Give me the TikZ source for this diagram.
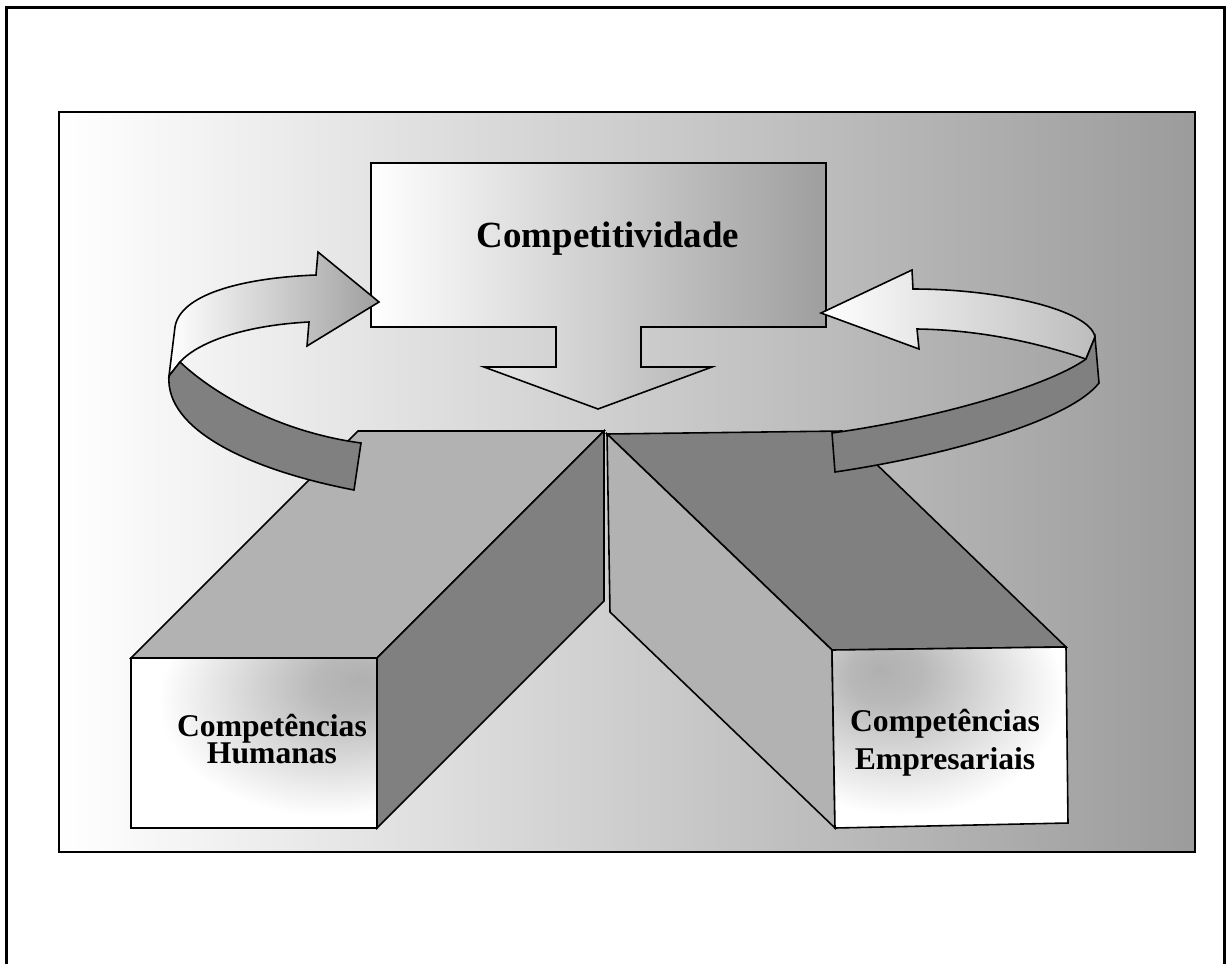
\documentclass[tikz,border=0pt]{standalone}
\usepackage{fontspec}
\setmainfont{Liberation Serif}

\definecolor{darkface}{gray}{0.5}
\definecolor{lightface}{gray}{0.7}
\definecolor{panelend}{gray}{0.61}
\definecolor{boxend}{gray}{0.62}

% front faces of the two blocks
\pgfdeclareradialshading{humfront}{\pgfpoint{22bp}{19bp}}{color(0bp)=(gray!62); color(8bp)=(gray!55); color(34bp)=(white); color(100bp)=(white)}
\pgfdeclareradialshading{empfront}{\pgfpoint{-15bp}{19bp}}{color(0bp)=(gray!62); color(8bp)=(gray!55); color(34bp)=(white); color(100bp)=(white)}

\tikzset{
  edge/.style={draw=black, line width=0.9pt, line join=miter},
  darkside/.style={edge, fill=darkface},
  lightside/.style={edge, fill=lightface},
  blocktext/.style={font={\fontsize{18}{#1}\selectfont\bfseries\lineskiplimit-20pt}, align=center}
}

\begin{document}
\begin{tikzpicture}[x=0.02cm, y=-0.02cm]
\useasboundingbox (0,0) rectangle (1228,964);

% page frame
\draw[line width=1.7pt] (6.5,964) -- (6.5,7.5) -- (1224.5,7.5) -- (1224.5,964);

% panel
\draw[line width=1.1pt, left color=white, right color=panelend] (59,112) rectangle (1195,852);

% top box with down arrow
\draw[edge, left color=white, right color=boxend]
  (371,163) -- (826,163) -- (826,327) -- (641,327) -- (641,367) -- (712,367)
  -- (598,409) -- (484,367) -- (556,367) -- (556,327) -- (371,327) -- cycle;
\node[anchor=base, font=\fontsize{21}{25}\selectfont\bfseries] (compet) at (608,247) {Competitividade};

% left block
\draw[lightside] (358,431) -- (604,431) -- (377,658) -- (131,658) -- cycle;
\draw[darkside] (604,431) -- (604,601) -- (377,828) -- (377,658) -- cycle;
\draw[edge, shading=humfront] (131,658) rectangle (377,828);
\node[blocktext=15.8pt] (human) at (272,739) {Competências\\Humanas};

% right block
\draw[darkside] (607,434) -- (842,431) -- (1066,647) -- (832,650) -- cycle;
\draw[lightside] (607,434) -- (832,650) -- (835,828) -- (610,612) -- cycle;
\draw[edge, shading=empfront] (832,650) -- (1066,647) -- (1068,823) -- (835,828) -- cycle;
\node[blocktext=21.7pt] (empres) at (945,743) {Competências\\Empresariais};

% left curved arrow
\draw[edge, left color=white, right color=gray!75]
  (318,252) -- (379,302) -- (307,346) -- (309,322)
  .. controls (250,325) and (200,340) .. (180,362) -- (169,376) -- (175,327)
  .. controls (180,295) and (240,278) .. (316,275) -- cycle;
\draw[darkside] (169,376) -- (180,362) .. controls (215,395) and (280,432) .. (361,443)
  -- (354,490) .. controls (250,470) and (165,430) .. (169,376) -- cycle;

% right curved arrow
\draw[edge, left color=white, right color=gray!52]
  (821,313) -- (912,270) -- (913,289) .. controls (1000,289) and (1090,310) .. (1095,337)
  -- (1086,359) .. controls (1050,347) and (990,330) .. (917,329) -- (919,349) -- cycle;
\draw[darkside] (1095,337) -- (1099,383) .. controls (1070,420) and (950,455) .. (835,472)
  -- (832,433) .. controls (940,418) and (1050,385) .. (1086,359) -- cycle;
\end{tikzpicture}
\end{document}
